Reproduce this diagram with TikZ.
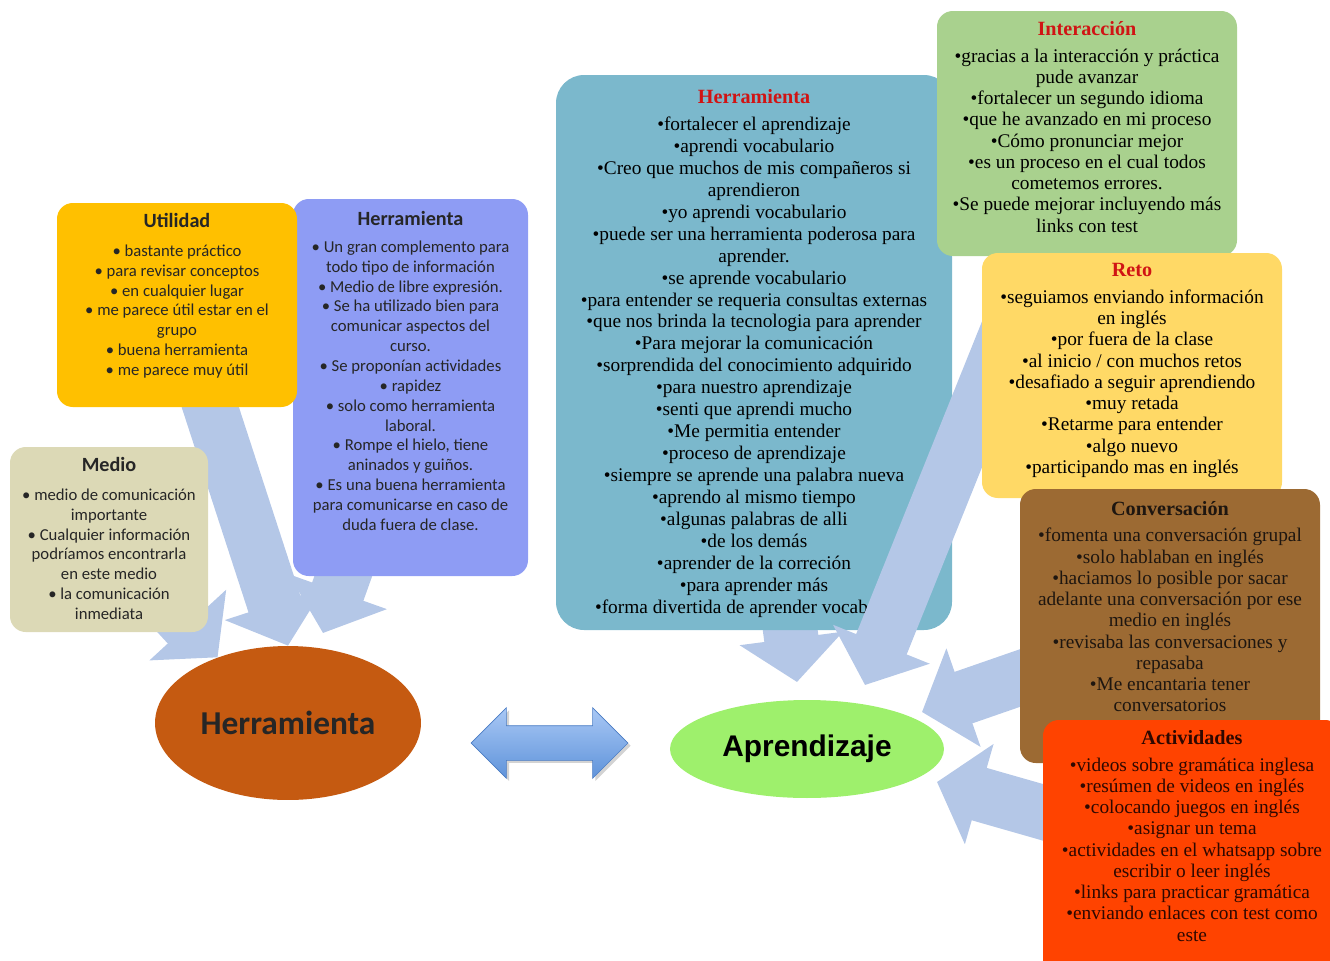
\documentclass[tikz,border=0pt]{standalone}
\usepackage{fontspec}
\setmainfont{Liberation Serif}
\newfontfamily\calibfont{Carlito}
\newfontfamily\arialfont{Liberation Sans}
\usetikzlibrary{positioning,fit,calc,arrows.meta,shapes.geometric,shapes.arrows,shadows}
\pgfdeclarelayer{bg}
\pgfdeclarelayer{boxes}
\pgfdeclarelayer{flows}
\pgfsetlayers{bg,boxes,flows,main}

\definecolor{utilcol}{HTML}{FFC000}
\definecolor{purpcol}{HTML}{8E9CF4}
\definecolor{mediocol}{HTML}{DCD9B6}
\definecolor{midcol}{HTML}{7BB8CC}
\definecolor{intercol}{HTML}{A9D18E}
\definecolor{retocol}{HTML}{FFD966}
\definecolor{convcol}{HTML}{9C6A33}
\definecolor{actcol}{HTML}{FF4300}
\definecolor{flowcol}{HTML}{B4C7E7}
\definecolor{herrcol}{HTML}{C55A11}
\definecolor{aprcol}{HTML}{9EF06C}
\definecolor{linktop}{HTML}{A9C8F5}
\definecolor{linkbot}{HTML}{5F93DA}
\definecolor{linkedge}{HTML}{4A7CC4}
\definecolor{redtitle}{HTML}{D01414}
\definecolor{ltextcol}{HTML}{262626}
\definecolor{convtext}{HTML}{1E1610}
\definecolor{acttext}{HTML}{2E0800}

\newcommand{\ltitle}[1]{{\fontsize{11.5}{13}\selectfont\bfseries #1}}
\newcommand{\rtitle}[1]{{\fontsize{11.5}{13}\selectfont\bfseries #1}}

\begin{document}
\begin{tikzpicture}[x=0.02cm,y=-0.02cm,
    box/.style={rounded corners=9pt,inner sep=0pt},
    ltxt/.style={font=\calibfont\fontsize{9.5}{11.3}\selectfont,align=center,inner sep=0pt,text=ltextcol},
    rtxt/.style={font=\fontsize{11}{12.1}\selectfont,align=center,inner sep=0pt},
    flow/.style={draw=flowcol,line width=31pt,-{Triangle[length=25pt,width=58pt]}}]

\useasboundingbox (0,0) rectangle (1330,961);

% left: Herramienta
\node[box,fill=purpcol,fit={(293,199) (528,576)}] (purp) {};
\node[ltxt,below=7pt of purp.north] (purptxt) {\ltitle{Herramienta}\\[4pt]
  • Un gran complemento para\\ todo tipo de información\\
  • Medio de libre expresión.\\
  • Se ha utilizado bien para\\ comunicar aspectos del\\ curso.\\
  • Se proponían actividades\\
  • rapidez\\
  • solo como herramienta\\ laboral.\\
  • Rompe el hielo, tiene\\ aninados y guiños.\\
  • Es una buena herramienta\\ para comunicarse en caso de\\ duda fuera de clase.};
\node[box,fill=utilcol,fit={(57,203) (297,407)}] (util) {};
\node[ltxt,below=6pt of util.north] (utiltxt) {\ltitle{Utilidad}\\[5pt]
  • bastante práctico\\
  • para revisar conceptos\\
  • en cualquier lugar\\
  • me parece útil estar en el\\ grupo\\
  • buena herramienta\\
  • me parece muy útil};
\node[box,fill=mediocol,fit={(10,447) (208,632)}] (medio) {};
\node[ltxt,below=6pt of medio.north] (mediotxt) {\ltitle{Medio}\\[5pt]
  • medio de comunicación\\ importante\\
  • Cualquier información\\ podríamos encontrarla\\ en este medio\\
  • la comunicación\\ inmediata};

\node[ellipse,fill=herrcol,minimum width=5.32cm,minimum height=3.08cm,inner sep=0pt,
  font=\calibfont\bfseries\fontsize{19}{22}\selectfont,text=ltextcol] (herr) at (288,723) {Herramienta};

% center
\node[double arrow,double arrow head extend=0.36cm,minimum height=3.14cm,minimum width=1.4cm,
  inner xsep=0pt,inner ysep=0.34cm,
  draw=linkedge,top color=linktop,bottom color=linkbot,
  drop shadow={shadow xshift=1.5pt,shadow yshift=-1.5pt,opacity=0.35}] (link) at (549.5,743) {};

\node[ellipse,fill=aprcol,minimum width=5.48cm,minimum height=1.96cm,inner sep=0pt,
  font=\arialfont\bfseries\fontsize{17}{20}\selectfont] (apr) at (807,749) {Aprendizaje};

% right: Herramienta
\begin{pgfonlayer}{boxes}
\node[box,rounded corners=16pt,fill=midcol,fit={(556,75) (952,630)}] (midbox) {};
\node[rtxt,font=\fontsize{11}{12.5}\selectfont,below=8pt of midbox.north] (midtxt) {\rtitle{\textcolor{redtitle}{Herramienta}}\\[3pt]
  •fortalecer el aprendizaje\\
  •aprendi vocabulario\\
  •Creo que muchos de mis compañeros si\\ aprendieron\\
  •yo aprendi vocabulario\\
  •puede ser una herramienta poderosa para\\ aprender.\\
  •se aprende vocabulario\\
  •para entender se requeria consultas externas\\
  •que nos brinda la tecnologia para aprender\\
  •Para mejorar la comunicación\\
  •sorprendida del conocimiento adquirido\\
  •para nuestro aprendizaje\\
  •senti que aprendi mucho\\
  •Me permitia entender\\
  •proceso de aprendizaje\\
  •siempre se aprende una palabra nueva\\
  •aprendo al mismo tiempo\\
  •algunas palabras de alli\\
  •de los demás\\
  •aprender de la correción\\
  •para aprender más\\
  •forma divertida de aprender vocabulario};
\end{pgfonlayer}

\node[box,fill=intercol,fit={(937,11) (1237,256)}] (inter) {};
\node[rtxt,below=6pt of inter.north] (intertxt) {\rtitle{\textcolor{redtitle}{Interacción}}\\[3pt]
  •gracias a la interacción y práctica\\ pude avanzar\\
  •fortalecer un segundo idioma\\
  •que he avanzado en mi proceso\\
  •Cómo pronunciar mejor\\
  •es un proceso en el cual todos\\ cometemos errores.\\
  •Se puede mejorar incluyendo más\\ links con test};
\node[box,fill=retocol,fit={(982,253) (1282,498)}] (reto) {};
\node[rtxt,below=6pt of reto.north] (retotxt) {\rtitle{\textcolor{redtitle}{Reto}}\\[3pt]
  •seguiamos enviando información\\ en inglés\\
  •por fuera de la clase\\
  •al inicio / con muchos retos\\
  •desafiado a seguir aprendiendo\\
  •muy retada\\
  •Retarme para entender\\
  •algo nuevo\\
  •participando mas en inglés};
\node[box,fill=convcol,fit={(1020,489) (1320,763)}] (conv) {};
\node[rtxt,text=convtext,below=7pt of conv.north] (convtxt) {\rtitle{Conversación}\\[3pt]
  •fomenta una conversación grupal\\
  •solo hablaban en inglés\\
  •haciamos lo posible por sacar\\ adelante una conversación por ese\\ medio en inglés\\
  •revisaba las conversaciones y\\ repasaba\\
  •Me encantaria tener\\ conversatorios};
\node[box,fill=actcol,fit={(1043,720) (1341,990)}] (act) {};
\node[rtxt,text=acttext,below=6pt of act.north] (acttxt) {\rtitle{Actividades}\\[3pt]
  •videos sobre gramática inglesa\\
  •resúmen de videos en inglés\\
  •colocando juegos en inglés\\
  •asignar un tema\\
  •actividades en el whatsapp sobre\\ escribir o leer inglés\\
  •links para practicar gramática\\
  •enviando enlaces con test como\\ este};

% block arrows
\begin{pgfonlayer}{bg}
\draw[flow] (medio.center) -- (herr.137);
\draw[flow] (util.center) -- (herr.north);
\draw[flow] (purp.center) -- ($(herr.center)+(35,-90)$);
\draw[flow] (midbox.center) -- ($(apr.center)+(-10,-67)$);
\end{pgfonlayer}
\begin{pgfonlayer}{flows}
\draw[flow] (inter.center) -- ($(apr.center)+(58,-64)$);
\draw[flow] (conv.center) -- ($(apr.center)+(115,-37)$);
\draw[flow] (act.center) -- ($(apr.center)+(130,33)$);
\end{pgfonlayer}

\end{tikzpicture}
\end{document}
